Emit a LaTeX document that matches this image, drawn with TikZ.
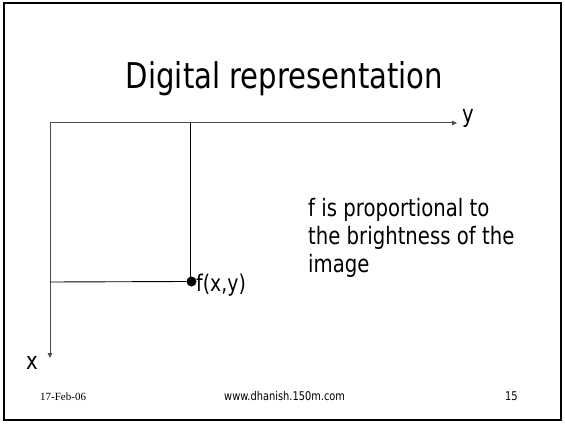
\documentclass[tikz,border=0pt]{standalone}
\usepackage{fontspec}
\usetikzlibrary{arrows.meta}
\newfontfamily\tah[FakeStretch=0.82]{DejaVu Sans}
\setmainfont{Liberation Serif}
\begin{document}
\begin{tikzpicture}[x=1pt,y=-1pt,
  axis/.style={draw=black!70,line width=1pt,-{Triangle[length=5pt,width=4.5pt]}},
  guide/.style={draw=black,line width=0.9pt},
  lbl/.style={inner sep=0pt,anchor=base west,font=\tah\fontsize{24}{28}\selectfont},
  foot/.style={inner sep=0pt,anchor=base west}]
\useasboundingbox (0,0) rectangle (565,425);
\draw[line width=2pt] (3.5,3.5) rectangle (560.5,420);
\node[inner sep=0pt,anchor=base] (title) at (284.5,89) {\tah\fontsize{35.5}{40}\selectfont Digital representation};
\coordinate (O) at (50,123);
\coordinate (Yend) at (457,123);
\coordinate (Xend) at (50,358);
\coordinate (Ptop) at (190,123);
\coordinate (Pleft) at (50,282);
\node[circle,fill=black,inner sep=0pt,minimum size=10pt] (P) at (191.5,281.5) {};
\draw[axis] (O) -- (Yend);
\draw[axis] (O) -- (Xend);
\draw[guide] (Ptop) -- (Ptop|-P);
\draw[guide] (Pleft) -- (P.west);
\node[lbl] (ylab) at (462,123) {y};
\node[lbl] (xlab) at (26,369) {x};
\node[lbl,font=\tah\fontsize{23}{28}\selectfont] (fxy) at (196,291) {f(x,y)};
\node[lbl,align=left] (desc) at (308,272) {f is proportional to\\the brightness of the\\image};
\node[foot,font=\fontsize{11}{13}\selectfont] (date) at (40,400) {17-Feb-06};
\node[foot,font=\tah\fontsize{12}{14}\selectfont] (url) at (224,400) {www.dhanish.150m.com};
\node[foot,font=\tah\fontsize{12}{14}\selectfont] (num) at (505,400) {15};
\end{tikzpicture}
\end{document}
